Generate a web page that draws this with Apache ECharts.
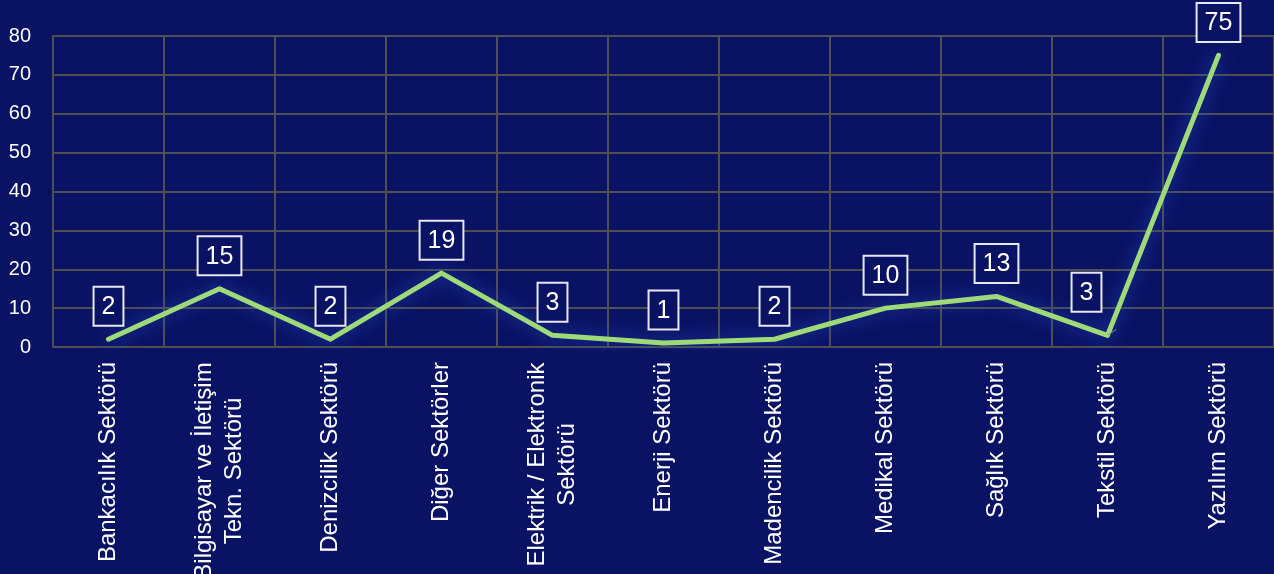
<!DOCTYPE html>
<html>
<head>
<meta charset="utf-8">
<script src="https://cdn.jsdelivr.net/npm/echarts@6/dist/echarts.min.js"></script>
<style>
  html, body { margin: 0; padding: 0; background: #0a1263; }
  #main { width: 1274px; height: 574px; }
</style>
</head>
<body>
<div id="main"></div>
<script>
// sektörler
var categories = [
  'Bankacılık Sektörü',
  'Bilgisayar ve İletişim\nTekn. Sektörü',
  'Denizcilik Sektörü',
  'Diğer Sektörler',
  'Elektrik / Elektronik\nSektörü',
  'Enerji Sektörü',
  'Madencilik Sektörü',
  'Medikal Sektörü',
  'Sağlık Sektörü',
  'Tekstil Sektörü',
  'Yazılım Sektörü'
];
var values = [2, 15, 2, 19, 3, 1, 2, 10, 13, 3, 75];
var yTicks = [0, 10, 20, 30, 40, 50, 60, 70, 80];

var chart = echarts.init(document.getElementById('main'), null, { renderer: 'canvas' });

var gridColor = '#4f4f52';
var fontFam = 'Liberation Sans, Arial, sans-serif';
var catFont = 24;

// iki satırlı etiketleri ortalamak için genişlik ölçümü
var ctx = document.createElement('canvas').getContext('2d');
ctx.font = catFont + 'px ' + fontFam;
function textW(s) { return Math.ceil(ctx.measureText(s).width); }

var seriesData = values.map(function (v, i) {
  // Tekstil etiketi sola kaydırılmış, çizgiyle bağlı
  if (i === 9) {
    return {
      value: v,
      label: { offset: [-21, -10] },
      labelLine: { show: true, lineStyle: { color: '#8a8a8a', width: 1 } }
    };
  }
  return v;
});

var option = {
  backgroundColor: '#0a1263',
  grid: {
    left: 53,
    right: 0,
    top: 36,
    bottom: 227,
    containLabel: false,
    outerBoundsMode: 'none'
  },
  xAxis: {
    type: 'category',
    data: categories,
    boundaryGap: true,
    axisLine: { show: true, lineStyle: { color: gridColor, width: 2 } },
    axisTick: { show: false },
    splitLine: { show: true, lineStyle: { color: gridColor, width: 2 } },
    axisLabel: {
      interval: 0,
      rotate: 90,
      margin: 15,
      color: '#ffffff',
      fontFamily: fontFam,
      fontSize: catFont,
      lineHeight: 30,
      formatter: function (val) {
        var lines = val.split('\n');
        if (lines.length === 1) return val;
        var w = Math.max.apply(null, lines.map(textW));
        return lines.map(function (s) { return '{c' + w + '|' + s + '}'; }).join('\n');
      },
      rich: (function () {
        var r = {};
        categories.forEach(function (c) {
          var lines = c.split('\n');
          if (lines.length > 1) {
            var w = Math.max.apply(null, lines.map(textW));
            r['c' + w] = {
              width: w,
              align: 'center',
              color: '#ffffff',
              fontFamily: fontFam,
              fontSize: catFont,
              lineHeight: 30
            };
          }
        });
        return r;
      })()
    }
  },
  yAxis: {
    type: 'value',
    min: yTicks[0],
    max: yTicks[yTicks.length - 1],
    interval: 10,
    axisLine: { show: true, lineStyle: { color: gridColor, width: 2 } },
    axisTick: { show: false },
    splitLine: { show: true, lineStyle: { color: gridColor, width: 2 } },
    axisLabel: {
      margin: 22,
      color: '#ffffff',
      fontFamily: fontFam,
      fontSize: 20
    }
  },
  series: [
    {
      type: 'line',
      data: seriesData,
      showSymbol: true,
      symbol: 'circle',
      symbolSize: 1,
      lineStyle: {
        color: '#9edb78',
        width: 5,
        cap: 'round',
        join: 'round',
        shadowColor: 'rgba(40, 80, 200, 0.9)',
        shadowBlur: 18
      },
      itemStyle: { color: '#9edb78' },
      label: {
        show: true,
        position: 'top',
        distance: 14,
        color: '#ffffff',
        fontFamily: fontFam,
        fontSize: 25,
        padding: [7, 7, 5, 7],
        borderColor: '#e6e8f4',
        borderWidth: 2,
        backgroundColor: '#0a1263'
      },
      animation: false
    }
  ],
  animation: false
};

chart.setOption(option);
</script>
</body>
</html>
